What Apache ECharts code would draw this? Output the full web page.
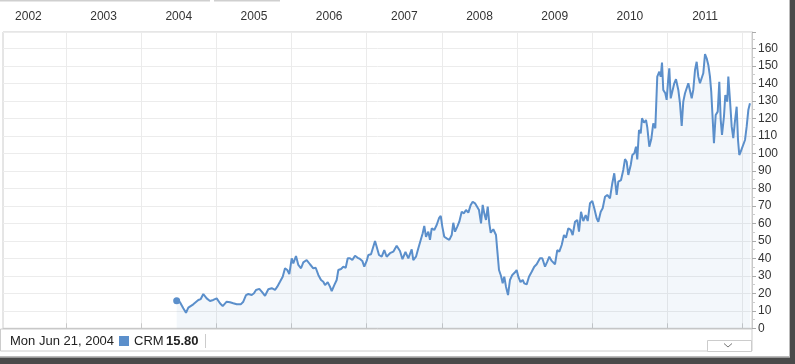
<!DOCTYPE html>
<html>
<head>
<meta charset="utf-8">
<script src="https://cdn.jsdelivr.net/npm/echarts@6/dist/echarts.min.js"></script>
<style>
html,body{margin:0;padding:0;background:#fff;}
#c{width:795px;height:364px;}
</style>
</head>
<body>
<div id="c"></div>
<script>
// ---- data (decimal years, price) ----
const dates = [
2004.472,2004.516,2004.560,2004.596,2004.627,2004.693,2004.760,2004.792,2004.826,2004.871,2004.915,2004.959,
2005.004,2005.048,2005.084,2005.137,2005.181,2005.225,2005.270,2005.324,2005.358,2005.394,2005.425,2005.470,
2005.500,2005.527,2005.571,2005.603,2005.647,2005.691,2005.736,2005.780,2005.810,2005.846,2005.882,2005.913,
2005.943,2005.970,2006.002,2006.023,2006.059,2006.090,2006.126,2006.156,2006.201,2006.245,2006.289,2006.321,
2006.356,2006.392,2006.422,2006.445,2006.481,2006.511,2006.534,2006.568,2006.600,2006.622,2006.658,2006.688,
2006.720,2006.747,2006.777,2006.808,2006.844,2006.880,2006.910,2006.941,2006.967,2006.999,2007.021,2007.057,
2007.087,2007.110,2007.132,2007.163,2007.199,2007.233,2007.265,2007.309,2007.353,2007.398,2007.442,2007.475,
2007.515,2007.553,2007.598,2007.619,2007.655,2007.686,2007.718,2007.744,2007.765,2007.788,2007.819,2007.841,
2007.864,2007.898,2007.930,2007.961,2007.984,2008.005,2008.031,2008.063,2008.098,2008.130,2008.151,2008.174,
2008.204,2008.231,2008.263,2008.293,2008.320,2008.351,2008.383,2008.409,2008.440,2008.462,2008.493,2008.520,
2008.542,2008.563,2008.586,2008.609,2008.630,2008.649,2008.683,2008.719,2008.736,2008.759,2008.786,2008.808,
2008.829,2008.852,2008.879,2008.905,2008.936,2008.972,2008.994,2009.016,2009.045,2009.075,2009.095,2009.127,
2009.158,2009.194,2009.228,2009.260,2009.304,2009.335,2009.371,2009.401,2009.428,2009.460,2009.504,2009.534,
2009.561,2009.593,2009.623,2009.650,2009.681,2009.713,2009.739,2009.770,2009.800,2009.823,2009.850,2009.880,
2009.912,2009.939,2009.969,2010.000,2010.026,2010.058,2010.080,2010.112,2010.138,2010.169,2010.199,2010.235,
2010.266,2010.292,2010.324,2010.346,2010.382,2010.412,2010.435,2010.457,2010.479,2010.511,2010.532,2010.559,
2010.581,2010.598,2010.621,2010.644,2010.661,2010.687,2010.714,2010.731,2010.758,2010.784,2010.811,2010.838,
2010.864,2010.891,2010.910,2010.927,2010.944,2010.971,2010.989,2011.007,2011.024,2011.043,2011.069,2011.090,
2011.113,2011.144,2011.166,2011.189,2011.210,2011.233,2011.255,2011.277,2011.299,2011.322,2011.343,2011.366,
2011.388,2011.410,2011.432,2011.455,2011.476,2011.499,2011.521,2011.543,2011.565,2011.582,2011.601,2011.618,
2011.641,2011.668,2011.689,2011.708,2011.725,2011.751,2011.769,2011.795,2011.809,2011.831,2011.854,2011.875,
2011.894,2011.920,2011.938,2011.955,2011.974,2012.000,2012.031,2012.053,2012.075,2012.097
];
const prices = [
15.8,14.9,11.4,8.9,11.8,13.7,16.2,16.7,19.6,17.1,15.6,16.2,
17.1,14.3,12.7,15.2,14.9,14.3,13.7,13.7,15.2,19.0,19.6,19.0,
20.0,21.9,22.5,20.9,18.6,22.3,22.9,21.9,23.8,26.6,29.5,34.3,
33.3,31.0,40.0,37.1,41.3,36.2,34.3,37.7,39.0,36.6,34.3,34.6,
30.5,27.6,26.6,24.7,26.3,23.8,21.3,24.7,27.6,33.3,33.9,35.2,
34.6,40.0,40.0,39.0,41.5,40.3,39.6,38.5,35.2,38.5,41.9,42.3,
46.6,49.9,46.6,41.9,40.9,44.7,40.9,42.9,43.8,47.2,44.2,39.5,
43.6,40.0,45.1,39.0,40.9,45.7,50.5,54.3,58.5,52.3,55.2,50.5,
57.1,56.2,59.0,62.9,64.2,58.1,52.3,51.4,50.5,53.3,60.3,55.2,
58.1,60.9,66.6,65.7,67.6,66.1,70.5,72.3,71.4,72.3,67.6,60.0,
70.5,65.7,61.9,69.5,60.0,54.6,56.6,53.3,44.7,33.3,29.9,25.7,
29.5,23.8,19.0,27.6,30.5,32.0,33.3,29.5,26.4,27.6,25.7,25.1,
29.5,32.3,35.2,36.6,40.0,40.0,35.2,38.1,40.9,38.5,36.6,44.7,
43.8,47.6,53.3,51.8,57.1,56.2,53.3,60.9,61.9,55.2,66.6,61.3,
64.7,61.3,71.4,72.7,68.6,62.9,60.9,66.6,68.6,75.2,76.2,74.3,
82.9,88.6,76.2,83.8,84.7,90.5,96.7,95.2,87.6,93.3,99.0,100.0,
103.8,96.5,113.3,111.4,120.0,117.5,119.0,114.9,103.8,108.0,117.1,114.3,
143.8,146.6,143.8,151.8,136.2,134.3,130.5,140.9,148.6,131.4,130.5,140.0,
142.3,136.2,128.6,115.6,129.5,134.3,134.3,140.0,139.0,131.4,136.2,147.6,
152.3,143.8,140.0,140.0,145.7,156.7,154.3,150.5,143.8,135.2,134.3,105.7,
121.9,123.8,140.9,119.0,110.5,120.9,133.3,129.5,143.8,130.5,115.2,108.6,
117.1,126.6,107.6,99.0,100.9,100.0,107.6,115.2,124.7,128.6
];
const yearBoundaries = [2003,2004,2005,2006,2007,2008,2009,2010,2011,2012];
const yearLabels = [2002,2003,2004,2005,2006,2007,2008,2009,2010,2011];
const seriesName = 'CRM';
const legendDate = 'Mon Jun 21, 2004';

const FONT = 'Arial, "Liberation Sans", sans-serif';
const LINE = '#5b8fcb';

const chart = echarts.init(document.getElementById('c'), null, {renderer: 'canvas'});
const seriesData = dates.map((d, i) => [d, prices[i]]);

chart.setOption({
  animation: false,
  backgroundColor: '#fff',
  textStyle: {fontFamily: FONT},
  grid: {left: 3, right: 43, top: 32, bottom: 35.7, show: true, borderColor: '#cccccc', borderWidth: 1, backgroundColor: 'transparent'},
  xAxis: {
    type: 'value', position: 'top', min: 2002.162, max: 2012.124,
    axisLine: {show: true, lineStyle: {color: '#c8c8c8'}},
    axisTick: {show: true, inside: false, length: 5, customValues: yearBoundaries, lineStyle: {color: '#c8c8c8'}},
    splitLine: {show: true, lineStyle: {color: '#ebebeb'}},
    axisLabel: {customValues: yearLabels.map(y => y + 0.5), formatter: v => String(Math.floor(v)),
      color: '#333', fontSize: 12, margin: 9, fontFamily: FONT}
  },
  yAxis: {
    type: 'value', position: 'right', min: 0, max: 169.3, interval: 10,
    axisLine: {show: true, lineStyle: {color: '#c8c8c8'}},
    axisTick: {show: true, inside: false, length: 4, lineStyle: {color: '#aaaaaa'}},
    minorTick: {show: true, splitNumber: 2, length: 3, lineStyle: {color: '#cccccc'}},
    splitLine: {show: true, lineStyle: {color: '#ececec'}},
    axisLabel: {color: '#333', fontSize: 12, margin: 6, showMaxLabel: false, fontFamily: FONT}
  },
  series: [
    {
      type: 'line', name: seriesName, data: seriesData, showSymbol: false, symbol: 'none',
      lineStyle: {color: LINE, width: 2}, areaStyle: {color: 'rgba(91,143,203,0.10)', origin: 'start'},
      z: 3
    },
    {
      type: 'scatter', data: [seriesData[0]], symbolSize: 7,
      itemStyle: {color: LINE, opacity: 1}, z: 4
    }
  ],
  graphic: [
    // top tabs
    {type: 'rect', shape: {x: 0, y: 0, width: 210, height: 1.5}, style: {fill: '#cfcfcf'}},
    {type: 'rect', shape: {x: 214, y: 0, width: 66, height: 1.5}, style: {fill: '#cfcfcf'}},
    // legend bar
    {type: 'rect', shape: {x: 0.5, y: 329, width: 751.5, height: 22}, style: {fill: '#fff', stroke: '#cccccc', lineWidth: 1}},
    {type: 'text', x: 10, y: 341, style: {text: legendDate, fill: '#222', font: '13px ' + FONT, textVerticalAlign: 'middle'}},
    {type: 'rect', shape: {x: 119, y: 336, width: 10, height: 10}, style: {fill: LINE}},
    {type: 'text', x: 134, y: 341, style: {text: seriesName, fill: '#222', font: '13px ' + FONT, textVerticalAlign: 'middle'}},
    {type: 'text', x: 166, y: 341, style: {text: prices[0].toFixed(2), fill: '#222', font: 'bold 13px ' + FONT, textVerticalAlign: 'middle'}},
    {type: 'line', shape: {x1: 205.5, y1: 334, x2: 205.5, y2: 348}, style: {stroke: '#cccccc', lineWidth: 1}},
    // dropdown box
    {type: 'rect', shape: {x: 707.5, y: 340.5, width: 44, height: 11}, style: {fill: '#fff', stroke: '#cccccc', lineWidth: 1}},
    {type: 'polyline', shape: {points: [[724, 343.5], [728, 347], [732, 343.5]]}, style: {stroke: '#777', lineWidth: 1, fill: null}},
    // outer frame and shadow
    {type: 'rect', shape: {x: 0, y: 356, width: 791, height: 1}, style: {fill: '#bbbbbb'}},
    {type: 'rect', shape: {x: 789, y: 0, width: 1, height: 357}, style: {fill: '#bbbbbb'}},
    {type: 'rect', shape: {x: 790, y: 0, width: 5, height: 364}, style: {fill: '#4a4a4a'}},
    {type: 'rect', shape: {x: 0, y: 358, width: 795, height: 6}, style: {fill: '#4a4a4a'}},
    {type: 'rect', shape: {x: 0, y: 357, width: 790, height: 1}, style: {fill: '#999999'}}
  ]
});
</script>
</body>
</html>
